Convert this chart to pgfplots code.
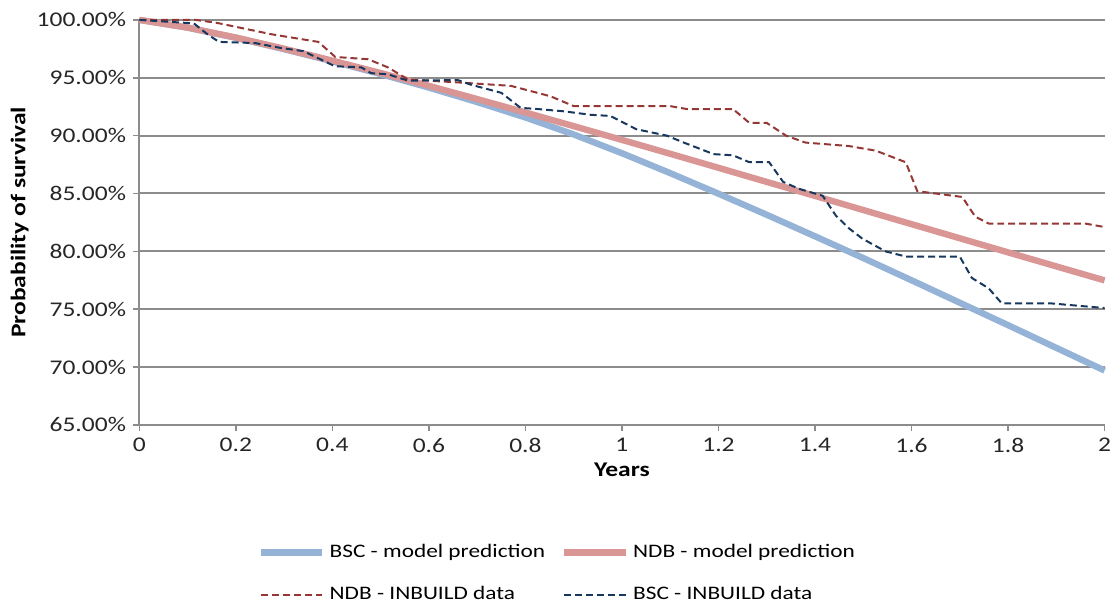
\documentclass[border=0pt]{standalone}
\usepackage{pgfplots}
\pgfplotsset{compat=1.18}
\usepackage{fontspec}
\setmainfont{Carlito}[FakeStretch=1.22]
\definecolor{bscmodel}{HTML}{95B3D7}
\definecolor{ndbmodel}{HTML}{D99694}
\definecolor{ndbdata}{HTML}{953735}
\definecolor{bscdata}{HTML}{17375E}
\definecolor{gridgray}{HTML}{8C8C8C}
\begin{document}
\fontsize{10.5pt}{12pt}\selectfont
\begin{tikzpicture}
\begin{axis}[
  scale only axis, width=485pt, height=203.5pt,
  xmin=0, xmax=2, ymin=65, ymax=100,
  axis x line=bottom, axis y line=left,
  axis line style={-, gridgray, line width=1pt},
  tick style={gridgray, line width=0.8pt},
  tick align=outside, major tick length=3pt,
  xtick={0,0.2,0.4,0.6,0.8,1,1.2,1.4,1.6,1.8,2},
  xticklabels={0,0.2,0.4,0.6,0.8,1,1.2,1.4,1.6,1.8,2},
  ytick={65,70,75,80,85,90,95,100},
  /pgf/number format/assume math mode=true,
  yticklabel={\pgfmathprintnumber[fixed,fixed zerofill,precision=2]{\tick}\%},
  ymajorgrids, grid style={gridgray, line width=1pt},
  tick label style={font=\fontsize{10.5pt}{12pt}\selectfont, text=black!85},
  xlabel={\textbf{Years}}, ylabel={\textbf{Probability of survival}},
  label style={font=\fontsize{10.5pt}{12pt}\selectfont},
  xlabel style={at={(axis description cs:0.5,-0.112)}, anchor=center},
  ylabel style={at={(axis description cs:-0.124,0.5)}, anchor=center, rotate=0},
  clip=false,
  legend columns=2,
  legend style={draw=none, fill=none, at={(0.434,-0.367)}, anchor=center,
    font=\fontsize{9.6pt}{11pt}\selectfont,
    nodes={inner xsep=2pt},
    /tikz/every even column/.append style={column sep=6pt},
    row sep=9pt},
  legend cell align=left,
  legend image code/.code={\draw[#1] (0pt,0pt) -- (31pt,0pt);},
]
\addplot[bscmodel, line width=3.2pt] coordinates {
(0,100) (0.1,99.33) (0.2,98.45) (0.3,97.47) (0.4,96.42) (0.5,95.32) (0.6,94.15)
(0.7,92.90) (0.8,91.57) (0.9,90.10) (1.0,88.48) (1.1,86.76) (1.2,84.98) (1.3,83.16)
(1.4,81.30) (1.5,79.42) (1.6,77.50) (1.7,75.56) (1.8,73.62) (1.9,71.66) (2.0,69.70)};
\addlegendentry{BSC - model prediction}
\addplot[ndbmodel, line width=3.2pt] coordinates {
(0,100) (0.1,99.34) (0.2,98.48) (0.3,97.51) (0.4,96.48) (0.5,95.41) (0.6,94.30)
(0.7,93.16) (0.8,92.00) (0.9,90.82) (1.0,89.63) (1.1,88.43) (1.2,87.22) (1.3,86.00)
(1.4,84.79) (1.5,83.57) (1.6,82.35) (1.7,81.13) (1.8,79.91) (1.9,78.70) (2.0,77.49)};
\addlegendentry{NDB - model prediction}
\addplot[ndbdata, line width=1pt, dash pattern=on 3.5pt off 2pt] coordinates {
(0,100) (0.117,100) (0.16,99.75) (0.206,99.35) (0.275,98.75) (0.371,98.1)
(0.406,96.8) (0.474,96.6) (0.515,95.9) (0.557,94.85) (0.66,94.6) (0.77,94.3)
(0.852,93.4) (0.90,92.55) (1.10,92.55) (1.134,92.3) (1.23,92.3) (1.264,91.1)
(1.30,91.1) (1.34,90.0) (1.38,89.4) (1.47,89.1) (1.526,88.7) (1.588,87.7)
(1.612,85.2) (1.705,84.7) (1.732,83.0) (1.76,82.4) (1.96,82.4) (2.0,82.1)};
\addlegendentry{NDB - INBUILD data}
\addplot[bscdata, line width=1pt, dash pattern=on 3.5pt off 2pt] coordinates {
(0,100) (0.113,99.7) (0.14,98.8) (0.165,98.1) (0.24,98.0) (0.29,97.6) (0.34,97.3)
(0.405,96.0) (0.46,95.9) (0.48,95.4) (0.515,95.3) (0.557,94.75) (0.66,94.8)
(0.687,94.4) (0.75,93.7) (0.79,92.4) (0.825,92.3) (0.88,92.1) (0.935,91.8)
(0.976,91.7) (1.03,90.55) (1.093,90.0) (1.128,89.4) (1.19,88.4) (1.23,88.3)
(1.264,87.7) (1.305,87.7) (1.334,86.0) (1.367,85.4) (1.416,84.8) (1.443,83.1)
(1.47,82.0) (1.498,81.1) (1.546,80.0) (1.588,79.55) (1.70,79.55) (1.725,77.7)
(1.76,76.8) (1.787,75.5) (1.89,75.5) (2.0,75.1)};
\addlegendentry{BSC - INBUILD data}
\end{axis}
\useasboundingbox (-70pt,-89.5pt) rectangle (489pt,213.5pt);
\end{tikzpicture}
\end{document}
